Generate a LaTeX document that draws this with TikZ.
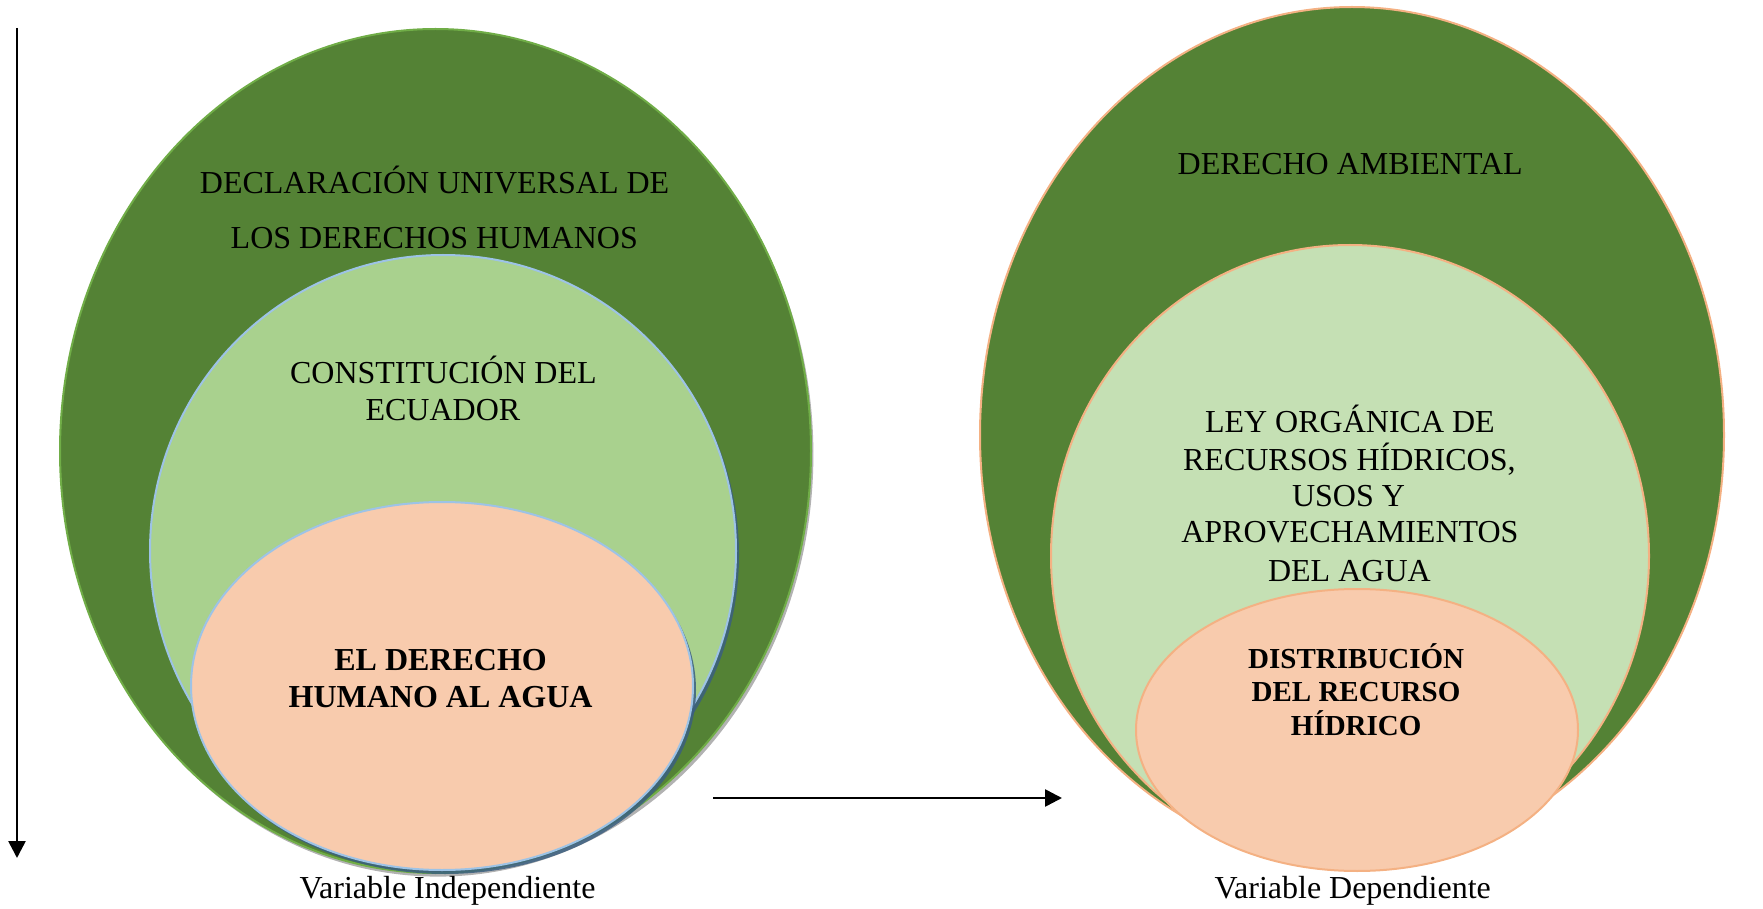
\documentclass[tikz,border=0pt]{standalone}
\usepackage{fontspec}
\setmainfont{Liberation Serif}
\usetikzlibrary{shapes.geometric,shadows,arrows.meta}
\definecolor{dkgreen}{HTML}{548235}
\definecolor{brgreen}{HTML}{70AD47}
\definecolor{ltgreenA}{HTML}{A9D18E}
\definecolor{ltgreenB}{HTML}{C5E0B4}
\definecolor{peach}{HTML}{F8CBAD}
\definecolor{blueedge}{HTML}{9DC3E6}
\definecolor{orangeedge}{HTML}{F4B183}
\definecolor{shadowblue}{HTML}{3B5F80}
\tikzset{
  oval/.style={ellipse, inner sep=0pt, outer sep=0pt, line width=1pt},
  graysh/.style={drop shadow={shadow xshift=1.2pt, shadow yshift=-1.8pt, fill=black, opacity=0.3}},
  bluesh/.style={drop shadow={shadow xshift=1.5pt, shadow yshift=-2pt, fill=shadowblue, opacity=0.85}},
  txt/.style={anchor=base, inner sep=0pt, font=\fontsize{16}{19}\selectfont},
  btxt/.style={anchor=base, inner sep=0pt, font=\fontsize{16}{19}\selectfont\bfseries},
  sbtxt/.style={anchor=base, inner sep=0pt, font=\fontsize{14.5}{17}\selectfont\bfseries},
  arr/.style={line width=1.3pt, -{Triangle[length=8.5pt,width=8.5pt]}}
}
\begin{document}
\begin{tikzpicture}[x=0.5pt,y=-0.5pt]
\useasboundingbox (0,0) rectangle (1763,909);
% left set
\node[oval, graysh, fill=dkgreen, draw=brgreen, minimum width=375.5pt, minimum height=422pt] (L1) at (435.5,451) {};
\node[oval, bluesh, fill=ltgreenA, draw=blueedge, minimum width=293pt, minimum height=296pt] (L2) at (443,551) {};
\node[oval, bluesh, fill=peach, draw=blueedge, minimum width=251pt, minimum height=184pt] (L3) at (442,686) {};
% right set
\node[oval, fill=dkgreen, draw=orangeedge, minimum width=372pt, minimum height=428pt] (R1) at (1352,435) {};
\node[oval, fill=ltgreenB, draw=orangeedge, minimum width=299pt, minimum height=311pt] (R2) at (1350,556) {};
\node[oval, fill=peach, draw=orangeedge, minimum width=221pt, minimum height=141pt] (R3) at (1357,730) {};
% left texts
\node[txt] (d1) at (434.6,193.2) {DECLARACIÓN UNIVERSAL DE};
\node[txt] (d2) at (434.3,248.3) {LOS DERECHOS HUMANOS};
\node[txt] (c1) at (443.4,383.4) {CONSTITUCIÓN DEL};
\node[txt] (c2) at (442.9,420.5) {ECUADOR};
\node[btxt] (e1) at (440.6,670.3) {EL DERECHO};
\node[btxt] (e2) at (440.6,707.4) {HUMANO AL AGUA};
\node[txt] (vi) at (447.5,898.3) {Variable Independiente};
% right texts
\node[txt] (a1) at (1350.2,174.1) {DERECHO AMBIENTAL};
\node[txt] (l1) at (1349.9,432) {LEY ORGÁNICA DE};
\node[txt] (l2) at (1349.4,470.3) {RECURSOS HÍDRICOS,};
\node[txt] (l3) at (1348.5,506.3) {USOS Y};
\node[txt] (l4) at (1349.9,542.2) {APROVECHAMIENTOS};
\node[txt] (l5) at (1349.4,581.6) {DEL AGUA};
\node[sbtxt] (r1) at (1356.2,668.6) {DISTRIBUCIÓN};
\node[sbtxt] (r2) at (1356,701.2) {DEL RECURSO};
\node[sbtxt] (r3) at (1356.2,735.4) {HÍDRICO};
\node[txt] (vd) at (1352.7,898.3) {Variable Dependiente};
% arrows
\coordinate (vs) at (17,28);
\coordinate (ve) at (17,858);
\coordinate (hs) at (713,798);
\coordinate (he) at (1062,798);
\draw[arr] (vs) -- (ve);
\draw[arr] (hs) -- (he);
\end{tikzpicture}
\end{document}
